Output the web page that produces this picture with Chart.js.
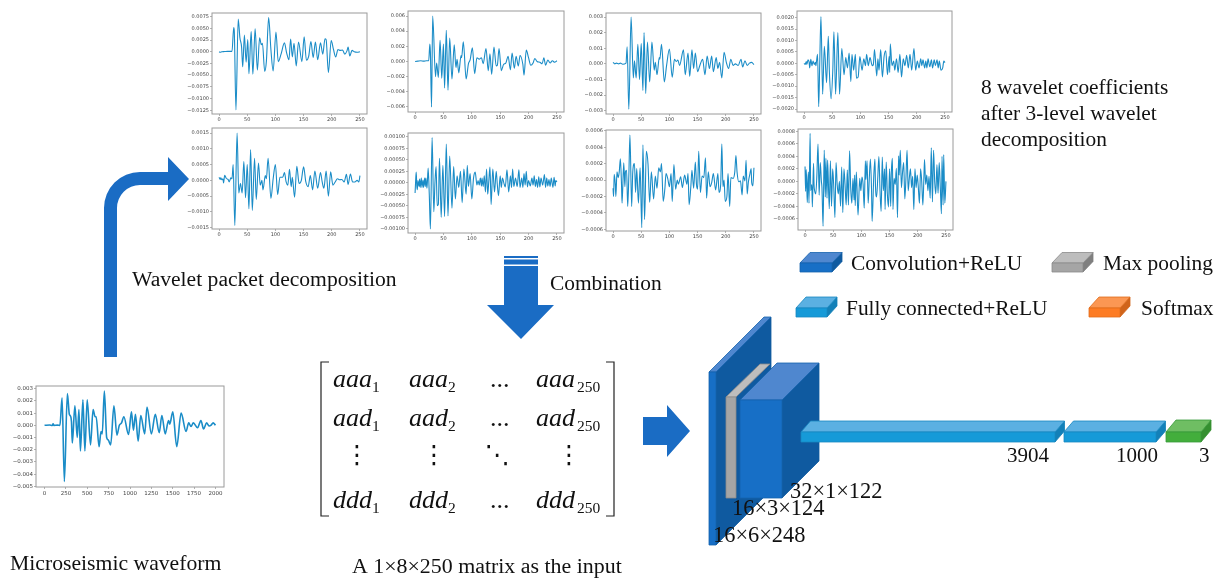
<!DOCTYPE html>
<html>
<head>
<meta charset="utf-8">
<title>Wavelet packet CNN</title>
<script src="https://cdn.jsdelivr.net/npm/chart.js@4/dist/chart.umd.min.js"></script>
<style>
  html, body { margin: 0; background: #fff; overflow: hidden; }
  canvas { position: absolute; }
  .panel { filter: blur(0.45px); }
</style>
</head>
<body>
<canvas id="diagram" width="1219" height="578" style="left:0;top:0;filter:blur(0.3px)"></canvas>
<script>
// values, [sample, amplitude]
const rawWave = [[0,0],[60,.00003],[90,-.00002],[100,.00012],[110,0],[150,.00002],[180,0],[205,.00225],[232,-.0046],[267,.0026],[290,.0009],[300,.0008],[315,.0003],[325,-.00145],[355,.0016],[383,-.001],[402,.0013],[420,-.0021],[449,.0021],[472,-.0021],[499,.0021],[538,-.0016],[568,.0013],[592,.0007],[604,.0007],[638,-.00175],[661,-.0005],[675,-.0007],[700,.0028],[727,-.001],[745,-.0012],[774,-.0016],[812,.0016],[847,-.0008],[875,0],[901,.0002],[928,.0007],[983,-.00075],[1017,.0011],[1040,-.0004],[1064,.0009],[1095,-.0013],[1126,.0008],[1172,-.0007],[1199,.0015],[1250,-.0007],[1296,.0009],[1342,-.0006],[1373,.0008],[1412,-.0007],[1451,.0004],[1465,.0001],[1501,.0011],[1547,-.00175],[1598,.001],[1656,-.0005],[1687,.0002],[1714,-.0001],[1741,.0002],[1791,-.0002],[1830,.0004],[1861,-.0003],[1896,.0002],[1925,-.00005],[1950,.00002],[1973,.0002],[2000,0]];
const aaaWave = [[0,0],[2,-.0001],[5,0],[10,.00005],[15,.0001],[23,.0001],[26,.0052],[27,.0045],[30,-.0124],[34,.007],[37,.003],[40,.001],[42,-.0032],[45,.0036],[48,-.0022],[51,.0026],[53,-.0047],[57,.0043],[60,-.0048],[64,.0049],[68,-.0039],[72,.003],[75,.0015],[77,.0018],[81,-.0042],[84,-.002],[88,.0073],[92,.0005],[96,-.0041],[101,.0042],[105,-.0021],[110,-.0005],[116,.0019],[120,-.0003],[124,-.0017],[127,.0027],[130,-.0011],[133,.0018],[137,-.003],[141,.0021],[147,-.0021],[151,.0032],[155,-.0018],[159,-.001],[163,.0022],[167,-.0012],[171,.0021],[175,-.0017],[180,.0019],[184,-.0005],[188,.0028],[190,.0026],[194,-.0044],[199,.0024],[203,.0005],[207,-.0011],[211,.0005],[215,.0003],[219,.0004],[223,-.0005],[227,.0002],[229,.001],[232,-.0009],[236,.0003],[240,0],[245,-.0001],[250,0]];
const aadWave = [[0,0],[5,.00005],[10,.0001],[15,.00005],[20,.0001],[24,.0001],[26,.0023],[27,.0012],[29,-.006],[31,.006],[36,-.002],[38,-.0002],[41,-.0021],[44,.0028],[47,-.0022],[50,.0023],[52,-.0035],[55,.0041],[58,-.0038],[61,.0031],[65,-.0023],[69,.0022],[72,-.0008],[74,.0003],[77,-.0015],[81,.0008],[82,.0005],[85,.0026],[90,-.0023],[94,-.0003],[97,.0002],[101,.0018],[105,-.0016],[109,.0005],[113,.0003],[117,.0005],[120,-.0003],[125,.0017],[129,-.0012],[132,.001],[135,-.0017],[139,.0019],[143,-.0006],[145,-.0005],[148,.0017],[152,-.0012],[156,-.0004],[160,-.0002],[164,.0007],[168,-.0011],[171,.0011],[175,-.0009],[178,.0007],[182,-.0006],[185,.0008],[190,-.0004],[192,-.0018],[196,.0015],[200,.0005],[204,-.0005],[208,-.0002],[211,.0004],[215,0],[220,-.0001],[224,-.0003],[227,.0005],[230,-.0005],[234,.0002],[238,-.0002],[242,.0001],[246,-.0001],[250,.0001]];
const adaWave = [[0,.0001],[3,0],[6,.00005],[10,0],[13,.00005],[17,-.00002],[23,.00005],[25,.0011],[28,-.0029],[32,.003],[36,-.0009],[38,.0002],[41,-.0009],[44,.00125],[47,-.001],[50,.0013],[53,-.0017],[55,.002],[58,-.0019],[61,.0014],[65,-.00115],[69,.0014],[73,-.0004],[75,.0001],[78,-.0007],[82,.0004],[83,.0003],[86,.00125],[91,-.00115],[95,-.0001],[100,.00095],[105,-.00085],[109,.0003],[112,.00015],[115,.00025],[118,-.0001],[125,.0009],[128,-.0007],[133,.0007],[136,-.0008],[140,.0009],[143,-.0003],[146,.0007],[150,-.0005],[154,-.0001],[159,.0003],[163,-.0007],[167,.0005],[171,-.0003],[175,.0005],[178,-.0005],[183,.0004],[186,-.0003],[189,.0001],[193,-.0009],[197,.00075],[201,.0001],[205,-.0003],[209,.0003],[213,-.0001],[217,0],[222,-.0001],[227,.0003],[230,-.0002],[234,.0002],[238,-.0001],[242,.00005],[246,.0001],[250,-.00005]];
const addWave = [[0,0],[2,-.00005],[4,.00008],[5,-.00005],[7,.00015],[9,.00005],[10,-.0002],[12,.00018],[14,-.0001],[16,.0001],[18,-.00005],[20,.00005],[21,-.0001],[22,.00006],[24,.00039],[26,-.0019],[28,.0002],[30,.00205],[33,-.00135],[36,.00075],[40,-.00085],[43,.00118],[45,-.0004],[48,-.00155],[51,-.0003],[53,.00138],[56,-.00135],[60,.00135],[63,-.00135],[67,.00065],[71,-.0005],[74,.00025],[77,-.0002],[80,.00045],[83,-.0008],[85,.0004],[88,-.0003],[91,.0004],[93,-.00065],[96,-.0006],[99,.0003],[103,-.0003],[106,.0002],[109,-.0001],[111,.0004],[114,-.0001],[117,.00025],[121,-.0001],[123,-.00005],[125,.0006],[129,-.00055],[131,.0002],[133,-.0003],[136,.0006],[139,-.0006],[142,.0003],[145,.00055],[148,-.0005],[151,.0003],[152,-.0004],[153,.00085],[156,-.0001],[159,.0001],[161,-.0003],[164,.0002],[167,-.0004],[170,.0004],[173,-.0006],[176,.0002],[179,-.0001],[182,.00035],[185,-.0002],[188,.0004],[191,-.0003],[195,.00065],[198,-.0003],[201,.0001],[204,-.0002],[207,.0002],[209,-.0001],[211,.00015],[214,-.0002],[216,.0001],[218,-.0002],[220,.0002],[223,-.00015],[226,.00015],[228,-.0002],[231,.00015],[233,-.0001],[236,.00015],[238,-.0002],[240,.0001],[243,-.0003],[246,-.0002],[248,.0001],[250,.00003]];
const daaWave = [[0,.0001],[2,.00003],[3,.00008],[5,.00002],[7,.00005],[8,-.00008],[10,.00016],[13,.00006],[16,.00003],[18,-.00005],[21,.00008],[23,.00005],[25,.0005],[28,-.00143],[32,.0015],[35,-.0004],[38,-.0001],[41,-.0004],[44,.0006],[47,-.00055],[50,.0005],[53,-.0009],[56,.00098],[59,-.00095],[63,.0007],[66,-.0006],[70,.00055],[73,-.00015],[76,0],[78,-.0003],[82,.00015],[84,.00005],[87,.0007],[92,-.00057],[96,.00005],[100,.0005],[104,-.00045],[108,.0001],[113,.0001],[116,.00025],[119,-.00005],[122,-.00015],[125,.00035],[128,-.0002],[130,.0001],[134,-.00053],[138,.00045],[142,-.0001],[146,0],[150,.00043],[154,-.00005],[158,-.0002],[162,.00015],[166,-.0003],[170,.0003],[175,-.00025],[180,.00025],[183,-.00005],[186,-.00025],[190,.0003],[194,-.0005],[198,.00027],[202,-.00015],[206,-.00005],[210,.00005],[214,.00002],[218,.00003],[222,-.00005],[226,.00019],[229,-.00013],[233,.0002],[237,-.00005],[241,-.00005],[245,0],[248,-.00005],[250,.00015]];
const dadWave = [[0,-.00022],[1,.00005],[2,.00023],[3,-.00007],[4,-.00015],[5,.00005],[7,-.00008],[8,.00008],[9,-.0001],[11,.0001],[12,-.0001],[14,.00006],[15,-.0001],[17,.0001],[18,-.00008],[19,.0001],[21,-.00012],[23,.00032],[25,-.00025],[27,-.001],[30,.00098],[33,-.00063],[35,0],[37,.00035],[39,-.0005],[41,-.00047],[43,.00053],[46,-.00075],[49,.00038],[52,-.00073],[55,.00084],[58,-.00072],[61,.00058],[65,-.00055],[68,.00035],[71,-.00035],[74,.00015],[77,-.0001],[80,.00025],[83,-.00043],[86,.0003],[90,-.00025],[92,.00038],[94,-.00008],[97,.0002],[100,-.00035],[103,.0001],[106,.00023],[109,-.00005],[111,.00005],[113,-.00005],[115,.0001],[117,-.00007],[118,.0001],[120,-.00008],[122,.00015],[124,-.0002],[126,.0003],[128,-.00025],[130,.00005],[132,.00034],[134,-.00047],[137,.0003],[140,-.0002],[143,.00025],[145,-.00005],[147,-.00028],[150,.00015],[152,-.0001],[154,.0001],[157,-.00003],[159,-.00009],[162,.00028],[165,-.0002],[168,.00015],[170,-.0001],[172,.0003],[174,-.00008],[177,.0001],[180,-.00008],[183,.00028],[185,-.0001],[188,.0001],[190,-.0001],[192,.0002],[194,-.00005],[196,.00025],[198,-.00009],[200,.00005],[203,-.00007],[206,.0001],[208,-.00005],[210,.00015],[212,-.00008],[214,.00007],[216,-.0001],[218,.00013],[220,-.00009],[222,.0001],[225,-.00005],[228,.00018],[230,-.0001],[232,.0001],[234,-.00007],[236,.00007],[238,-.00008],[240,.0001],[243,-.0001],[245,.00012],[247,-.00007],[248,.00005],[250,.00002]];
const ddaWave = [[0,-.0001],[1,-.0002],[2,.00007],[4,-.00005],[5,-.0002],[7,.0001],[9,.00003],[11,.0001],[13,.00026],[15,-.00005],[16,-.00028],[19,.00021],[21,-.00008],[22,.0001],[24,.00012],[26,-.00032],[28,.00005],[30,.00055],[33,-.00032],[35,.0001],[38,.0002],[40,-.00015],[42,.00014],[45,-.00028],[48,.00015],[51,-.00058],[53,.00043],[56,-.00048],[59,.00035],[62,.0002],[65,-.00027],[68,.0001],[72,-.00023],[75,.00005],[78,-.0001],[81,.00015],[84,.0001],[86,.0002],[89,-.00026],[92,-.0001],[94,.00008],[97,.00002],[100,-.00008],[103,.00008],[105,-.00026],[108,.00019],[111,-.00011],[114,0],[116,-.00005],[120,.00004],[123,-.00009],[127,.00006],[131,-.00005],[133,.00008],[135,-.0003],[138,-.00008],[140,.00012],[143,-.0001],[146,.00022],[148,-.00005],[150,-.00011],[152,.00035],[155,-.00015],[158,.00005],[161,.00003],[164,.00027],[166,-.00022],[169,.0001],[172,-.00008],[175,-.00003],[178,.00008],[182,-.00012],[186,.00008],[188,-.00015],[191,-.00005],[193,.00044],[195,-.00008],[197,0],[199,-.00026],[202,-.0002],[204,.00008],[207,-.00032],[209,.00003],[213,.00002],[216,.0001],[218,.0003],[220,.0001],[223,-.00002],[226,-.00001],[229,-.00018],[231,.00005],[234,-.00001],[236,.00024],[238,-.00017],[240,-.00003],[243,.00008],[245,.00014],[246,-.00003],[248,-.00007],[250,.00015]];
const dddWave = [[0,.00024],[1,-.00016],[2,.00019],[3,-.00005],[4,-.00034],[5,0],[6,.00015],[7,-.00035],[9,.00077],[10,-.00015],[12,-.00005],[13,-.00041],[15,.00029],[16,-.00006],[17,-.00015],[19,-.0002],[21,.0001],[23,.0006],[25,-.00022],[27,.0003],[29,0],[30,-.0001],[32,-.00072],[34,.0005],[36,-.00025],[37,.00037],[39,-.00027],[40,.00034],[43,-.00044],[45,.00033],[47,-.0004],[49,.0002],[51,-.0001],[53,-.00058],[55,.0003],[57,-.00005],[59,-.0002],[61,0],[63,-.0004],[65,.00023],[67,-.0005],[69,.0002],[71,-.00006],[73,-.00038],[75,.00018],[77,-.00038],[79,.00049],[81,-.0001],[83,-.00035],[85,.00005],[87,-.0003],[88,.0001],[89,-.00039],[91,.00015],[94,-.00054],[97,.00005],[99,-.00015],[101,.00007],[103,-.00005],[105,-.00043],[107,.00033],[108,.00003],[110,.00033],[112,-.00035],[114,.00005],[116,.00036],[118,-.00015],[119,-.00064],[122,.0001],[124,.00036],[125,-.00008],[127,-.00025],[129,.00005],[131,.0004],[133,-.00015],[135,-.00048],[137,.00039],[139,-.00015],[141,.0002],[142,-.00045],[144,.00031],[146,-.0002],[148,-.00041],[150,.0002],[152,-.0004],[153,.0001],[155,.00037],[156,-.00045],[158,.00005],[160,-.00005],[162,.00021],[164,-.00058],[166,.00041],[167,.0001],[169,.0005],[171,-.0001],[173,.00015],[175,.0003],[177,-.00028],[179,.00005],[181,.0005],[183,-.00015],[185,.00005],[187,.0002],[189,-.0001],[191,.00008],[193,-.00045],[195,.0002],[197,-.0001],[199,.0001],[201,-.0001],[203,-.00035],[205,.0002],[207,0],[209,-.00038],[211,.0001],[212,.00035],[214,-.00005],[216,.0001],[218,-.00015],[220,.00008],[222,-.00027],[224,.00054],[226,-.00033],[228,.0005],[230,0],[232,-.0002],[234,.00027],[236,-.00019],[238,.0003],[240,-.0001],[242,-.00052],[243,.0004],[245,-.00038],[246,.00043],[248,-.00035],[250,0]];

const sampleTicks = [0, 50, 100, 150, 200, 250];
const rawSampleTicks = [0, 250, 500, 750, 1000, 1250, 1500, 1750, 2000];
const rawTicks = [.003, .002, .001, 0, -.001, -.002, -.003, -.004, -.005];
const aaaTicks = [.0075, .005, .0025, 0, -.0025, -.005, -.0075, -.01, -.0125];
const aadTicks = [.006, .004, .002, 0, -.002, -.004, -.006];
const adaTicks = [.003, .002, .001, 0, -.001, -.002, -.003];
const addTicks = [.002, .0015, .001, .0005, 0, -.0005, -.001, -.0015, -.002];
const daaTicks = [.0015, .001, .0005, 0, -.0005, -.001, -.0015];
const dadTicks = [.001, .00075, .0005, .00025, 0, -.00025, -.0005, -.00075, -.001];
const ddaTicks = [.0006, .0004, .0002, 0, -.0002, -.0004, -.0006];
const dddTicks = [.0008, .0006, .0004, .0002, 0, -.0002, -.0004, -.0006];

const lineColor = '#1a8cc7';
const frameColor = '#9a9a9a';
const serif = '"Liberation Serif", serif';

const framePlugin = {
  id: 'frame',
  afterDraw(chart) {
    const { ctx, chartArea: a } = chart;
    ctx.save();
    ctx.strokeStyle = frameColor;
    ctx.lineWidth = 1;
    ctx.strokeRect(a.left, a.top, a.width, a.height);
    ctx.restore();
  },
};

// left, right, top, bottom are the plot frame in page pixels
function addPanel(cfg) {
  const padLeft = 34, padRight = 10, padTop = 6, padBottom = 14;
  const canvas = document.createElement('canvas');
  canvas.className = 'panel';
  canvas.width = cfg.right - cfg.left + padLeft + padRight;
  canvas.height = cfg.bottom - cfg.top + padTop + padBottom;
  canvas.style.left = (cfg.left - padLeft) + 'px';
  canvas.style.top = (cfg.top - padTop) + 'px';
  document.body.appendChild(canvas);

  const tickFont = { family: '"DejaVu Sans"', size: cfg.fontSize || 5 };
  new Chart(canvas, {
    type: 'line',
    data: {
      datasets: [{
        data: cfg.wave.map(p => ({ x: p[0], y: p[1] })),
        borderColor: lineColor,
        borderWidth: cfg.lineWidth || 1.1,
        pointRadius: 0,
        cubicInterpolationMode: 'monotone',
      }],
    },
    options: {
      responsive: false,
      animation: false,
      layout: { padding: { top: padTop, right: padRight } },
      plugins: { legend: { display: false }, tooltip: { enabled: false } },
      scales: {
        x: {
          type: 'linear',
          min: cfg.xMin,
          max: cfg.xMax,
          afterFit: s => { s.height = padBottom; },
          afterBuildTicks: s => { s.ticks = cfg.xTicks.map(v => ({ value: v })); },
          border: { display: false },
          grid: { drawOnChartArea: false, tickLength: 2, tickColor: '#666', tickWidth: 0.5 },
          ticks: { font: tickFont, color: '#444', padding: 1, maxRotation: 0, autoSkip: false,
            callback: v => String(v) },
        },
        y: {
          min: cfg.yMin,
          max: cfg.yMax,
          afterFit: s => { s.width = padLeft; },
          afterBuildTicks: s => { s.ticks = cfg.yTicks.map(v => ({ value: v })); },
          border: { display: false },
          grid: { drawOnChartArea: false, tickLength: 2, tickColor: '#666', tickWidth: 0.5 },
          ticks: { font: tickFont, color: '#444', padding: 1, autoSkip: false,
            callback: v => v.toFixed(cfg.decimals).replace('-', '\u2212') },
        },
      },
    },
    plugins: [framePlugin],
  });
}

const wave250 = { xMin: -12.5, xMax: 262.5, xTicks: sampleTicks };
addPanel({ ...wave250, wave: aaaWave, yTicks: aaaTicks, decimals: 4, yMin: -.01329, yMax: .00829, left: 212, right: 367, top: 13, bottom: 114 });
addPanel({ ...wave250, wave: aadWave, yTicks: aadTicks, decimals: 3, yMin: -.00666, yMax: .00666, left: 408, right: 564, top: 11, bottom: 112 });
addPanel({ ...wave250, wave: adaWave, yTicks: adaTicks, decimals: 3, yMin: -.00321, yMax: .00326, left: 606, right: 761, top: 13, bottom: 114 });
addPanel({ ...wave250, wave: addWave, yTicks: addTicks, decimals: 4, yMin: -.00213, yMax: .00229, left: 797, right: 952, top: 11, bottom: 112 });
addPanel({ ...wave250, wave: daaWave, yTicks: daaTicks, decimals: 4, yMin: -.00154, yMax: .00166, left: 212, right: 367, top: 128, bottom: 229 });
addPanel({ ...wave250, wave: dadWave, yTicks: dadTicks, decimals: 5, yMin: -.00109, yMax: .00108, left: 408, right: 564, top: 133, bottom: 233 });
addPanel({ ...wave250, wave: ddaWave, yTicks: ddaTicks, decimals: 4, yMin: -.00062, yMax: .00061, left: 606, right: 761, top: 130, bottom: 231 });
addPanel({ ...wave250, wave: dddWave, yTicks: dddTicks, decimals: 4, yMin: -.00078, yMax: .00084, left: 798, right: 953, top: 129, bottom: 230 });
addPanel({ wave: rawWave, xTicks: rawSampleTicks, xMin: -100, xMax: 2100, yTicks: rawTicks, decimals: 3, yMin: -.00505, yMax: .00322, left: 36, right: 224, top: 386, bottom: 487, fontSize: 5.5, lineWidth: 1.6 });

// block and arrow colours: [front, top, side, edge]
const convColors = ['#176fc6', '#4f87cf', '#0f5aa0', '#1562ad'];
const poolColors = ['#a5a5a5', '#bdbdbd', '#7f7f7f', '#8a8a8a'];
const stackedPoolColors = ['#a5a5a5', '#bdbdbd', '#0f5aa0', '#8a8a8a'];
const denseColors = ['#169ad8', '#5bb0e2', '#1380b8', '#1688c2'];
const softColors = ['#fd7c24', '#fb9753', '#d0641b', '#e06c1c'];
const outColors = ['#43ae3c', '#6fbe63', '#359030', '#37993a'];
const arrowFill = '#1a6cc4';

function poly(ctx, pts, fill, edge) {
  ctx.beginPath();
  pts.forEach((p, i) => (i ? ctx.lineTo(p[0], p[1]) : ctx.moveTo(p[0], p[1])));
  ctx.closePath();
  ctx.fillStyle = fill;
  ctx.fill();
  if (edge) {
    ctx.strokeStyle = edge;
    ctx.lineWidth = 0.8;
    ctx.stroke();
  }
}

function block(ctx, x0, x1, y0, y1, dx, dy, c) {
  poly(ctx, [[x1, y0], [x1 + dx, y0 - dy], [x1 + dx, y1 - dy], [x1, y1]], c[2], c[2]);
  poly(ctx, [[x0, y0], [x0 + dx, y0 - dy], [x1 + dx, y0 - dy], [x1, y0]], c[1], c[3]);
  poly(ctx, [[x0, y0], [x1, y0], [x1, y1], [x0, y1]], c[0], c[3]);
}

function drawArrows(ctx) {
  // bent arrow from the waveform up to the coefficient plots
  ctx.beginPath();
  ctx.moveTo(104, 357);
  ctx.lineTo(104, 208);
  ctx.arcTo(104, 172, 140, 172, 36);
  ctx.lineTo(168, 172);
  ctx.lineTo(168, 157);
  ctx.lineTo(189, 179);
  ctx.lineTo(168, 201);
  ctx.lineTo(168, 185);
  ctx.lineTo(140, 185);
  ctx.arcTo(117, 185, 117, 208, 23);
  ctx.lineTo(117, 357);
  ctx.closePath();
  ctx.fillStyle = arrowFill;
  ctx.fill();

  // striped down arrow
  poly(ctx, [[504, 256], [538, 256], [538, 258], [504, 258]], arrowFill);
  poly(ctx, [[504, 259.5], [538, 259.5], [538, 264.5], [504, 264.5]], arrowFill);
  poly(ctx, [[504, 266], [538, 266], [538, 305], [554, 305], [521, 339], [487, 305], [504, 305]], arrowFill);

  // arrow into the network
  poly(ctx, [[643, 417], [667, 417], [667, 405], [690, 431], [667, 457], [667, 445], [643, 445]], arrowFill);
}

function drawBlocks(ctx) {
  block(ctx, 800, 832, 263, 272, 10, 10.5, convColors);
  block(ctx, 1052, 1083, 263, 272, 10, 10.5, poolColors);
  block(ctx, 796, 827, 308, 317, 10, 11, denseColors);
  block(ctx, 1089, 1120, 308, 317, 10, 11, softColors);

  block(ctx, 709, 716, 372, 545, 55, 55, convColors);
  block(ctx, 726, 736, 397, 498, 34, 33, stackedPoolColors);
  block(ctx, 740, 782, 400, 498, 37, 37, convColors);
  block(ctx, 801, 1055, 432, 442, 9.5, 11, denseColors);
  block(ctx, 1064, 1156, 432, 442, 9.5, 11, denseColors);
  block(ctx, 1166, 1201, 432, 442, 10, 12, outColors);
}

function drawMatrix(ctx) {
  ctx.strokeStyle = '#222';
  ctx.lineWidth = 1.2;
  ctx.beginPath();
  ctx.moveTo(329, 362); ctx.lineTo(321, 362); ctx.lineTo(321, 516); ctx.lineTo(329, 516);
  ctx.moveTo(606, 362); ctx.lineTo(614, 362); ctx.lineTo(614, 516); ctx.lineTo(606, 516);
  ctx.stroke();

  const rows = [['aaa', 387], ['aad', 426], ['ddd', 508]];
  const cols = [[333, 372, '1'], [409, 448, '2'], [536, 577, '250']];
  ctx.fillStyle = '#111';
  ctx.textAlign = 'left';
  ctx.textBaseline = 'alphabetic';
  rows.forEach(([name, y]) => {
    cols.forEach(([x, subX, sub]) => {
      ctx.font = 'italic 26px ' + serif;
      ctx.fillText(name, x, y);
      ctx.font = '15.5px ' + serif;
      ctx.fillText(sub, subX, y + 5);
    });
    ctx.font = '26px ' + serif;
    ctx.fillText('...', 490, y);
  });

  ctx.font = '25px "DejaVu Sans"';
  ctx.textAlign = 'center';
  ctx.textBaseline = 'middle';
  ctx.fillText('\u22EE', 357, 456);
  ctx.fillText('\u22EE', 434, 456);
  ctx.fillText('\u22F1', 497, 456);
  ctx.fillText('\u22EE', 569, 456);
}

// text, x, baseline, size
const labels = [
  ['8 wavelet coefficients', 981, 94, 21.4],
  ['after 3-level wavelet', 981, 120, 21.4],
  ['decomposition', 981, 146, 21.4],
  ['Wavelet packet decomposition', 132, 286, 21.6],
  ['Combination', 550, 290, 21.4],
  ['Convolution+ReLU', 851, 270, 21.4],
  ['Max pooling', 1103, 270, 21.4],
  ['Fully connected+ReLU', 846, 315, 21.4],
  ['Softmax', 1141, 315, 21.4],
  ['Microseismic waveform', 10, 570, 21.7],
  ['A 1\u00D78\u00D7250 matrix as the input', 352, 573, 21.9],
  ['3904', 1007, 462, 21],
  ['1000', 1116, 462, 21],
  ['3', 1199, 462, 21],
  ['32\u00D71\u00D7122', 790, 498, 22.4],
  ['16\u00D73\u00D7124', 732, 515, 22.4],
  ['16\u00D76\u00D7248', 713, 542, 22.4],
];

const diagramPlugin = {
  id: 'diagram',
  afterDraw(chart) {
    const ctx = chart.ctx;
    ctx.save();
    drawArrows(ctx);
    drawBlocks(ctx);
    drawMatrix(ctx);
    ctx.fillStyle = '#111';
    ctx.textAlign = 'left';
    ctx.textBaseline = 'alphabetic';
    labels.forEach(([text, x, y, size]) => {
      ctx.font = size + 'px ' + serif;
      ctx.fillText(text, x, y);
    });
    ctx.restore();
  },
};

new Chart(document.getElementById('diagram'), {
  type: 'line',
  data: { datasets: [] },
  options: {
    responsive: false,
    animation: false,
    plugins: { legend: { display: false }, tooltip: { enabled: false } },
    scales: { x: { display: false }, y: { display: false } },
  },
  plugins: [diagramPlugin],
});
</script>
</body>
</html>
